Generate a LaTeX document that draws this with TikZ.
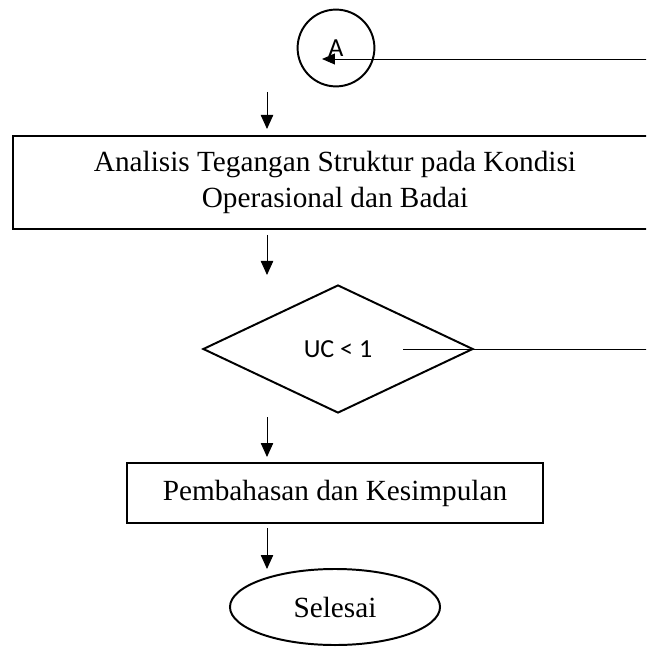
\documentclass[tikz,border=0pt]{standalone}
\usepackage{fontspec}
\setmainfont{Liberation Serif}
\newfontfamily\calibri{Carlito}
\usetikzlibrary{shapes.geometric,arrows.meta}

\tikzset{
	boxline/.style={draw, line width=1.4pt, inner sep=0pt},
	flowarrow/.style={line width=0.7pt, -{Triangle[length=3.5mm,width=3.1mm]}},
	backarrow/.style={line width=0.7pt, -{Triangle[length=3.2mm,width=2.7mm]}},
	serif/.style={font=\fontsize{20.8}{25}\selectfont},
	sans/.style={font=\calibri\fontsize{18.5}{22}\selectfont},
}

\begin{document}
\begin{tikzpicture}[x=0.025cm, y=-0.025cm]
			%%%%% START %%%%%
			\useasboundingbox (0, 0) rectangle (646, 648);
			\clip (0, 0) rectangle (646, 648);
			
			% connector A
			\node[boxline, circle, minimum size=1.92cm, sans] (conA) at (336, 48) {A};
			\coordinate (backin) at (660, 59);
			\coordinate (backtip) at (322, 59);
			\draw[backarrow] (backin) -- (backtip);
			
			% analysis box
			\node[boxline, minimum width=16.1cm, minimum height=2.325cm, align=center, serif] (analisis) at (335, 182.5)
				{Analisis Tegangan Struktur pada Kondisi\\Operasional dan Badai};
			
			% check
			\node[boxline, diamond, minimum width=6.75cm, minimum height=3.2cm, sans] (uc) at (338, 349) {UC < 1};
			\coordinate (ucline) at (403, 349);
			\coordinate (ucout) at (660, 349);
			\draw[line width=0.7pt] (ucline) -- (ucout);
			
			% conclusion
			\node[boxline, minimum width=10.4cm, minimum height=1.5cm, serif] (bahas) at (335, 493) {Pembahasan dan Kesimpulan};
			
			% end
			\node[boxline, ellipse, minimum width=5.25cm, minimum height=1.9cm, serif] (selesai) at (335, 607) {Selesai};
			
			% short arrows
			\coordinate (a1s) at (267, 92);
			\coordinate (a1e) at (267, 129);
			\coordinate (a2s) at (267, 235);
			\coordinate (a2e) at (267, 275);
			\coordinate (a3s) at (267, 417);
			\coordinate (a3e) at (267, 457);
			\coordinate (a4s) at (267, 528);
			\coordinate (a4e) at (267, 569);
			\draw[flowarrow] (a1s) -- (a1e);
			\draw[flowarrow] (a2s) -- (a2e);
			\draw[flowarrow] (a3s) -- (a3e);
			\draw[flowarrow] (a4s) -- (a4e);
			
			%%%%% END %%%%%
\end{tikzpicture}
\end{document}
